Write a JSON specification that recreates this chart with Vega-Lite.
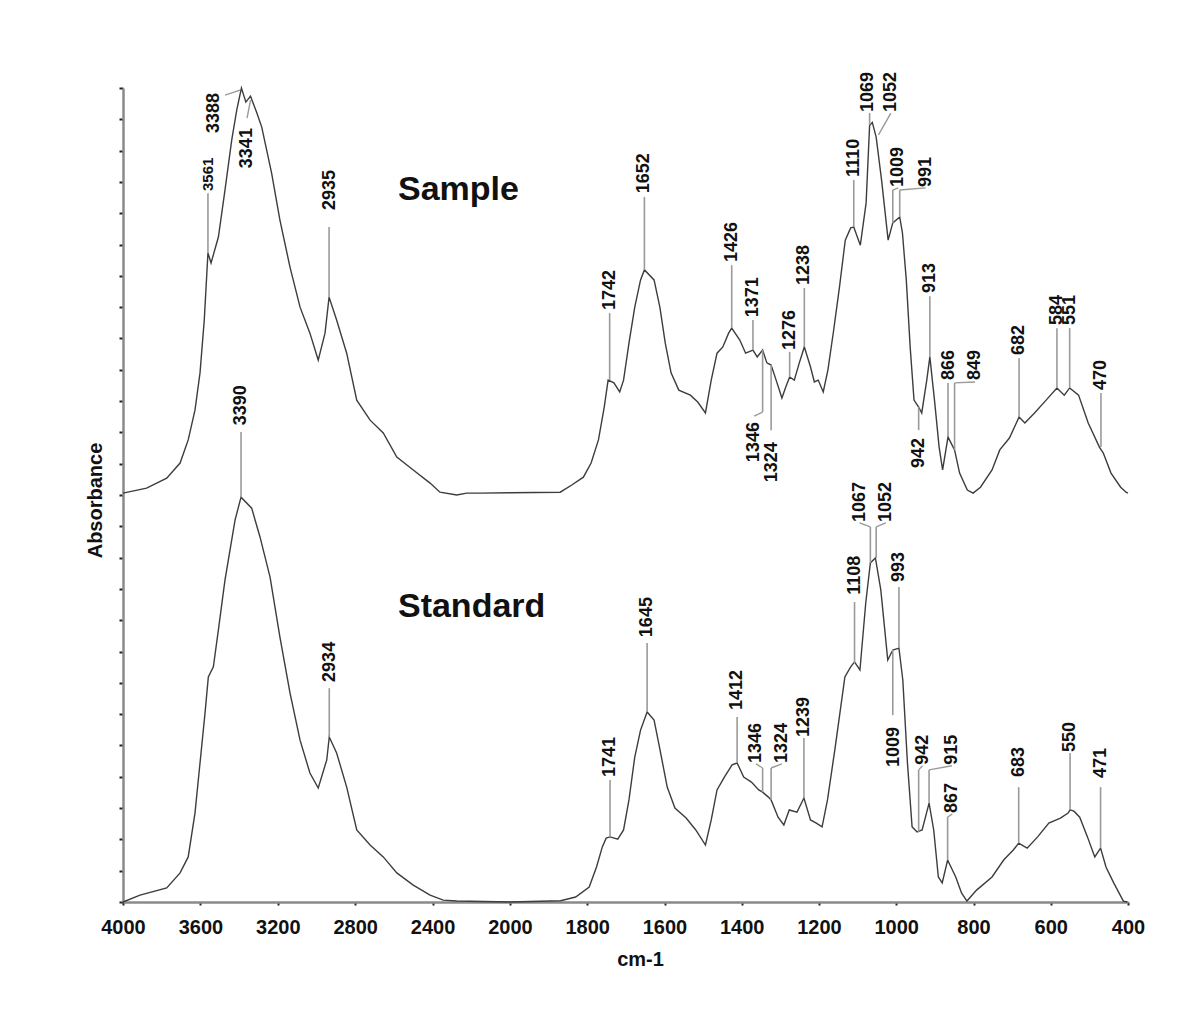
{
  "$schema": "https://vega.github.io/schema/vega-lite/v6.json",
  "width": 1005,
  "height": 814,
  "autosize": {"type": "none"},
  "padding": {"left": 123, "top": 88, "right": 72, "bottom": 118},
  "background": "white",
  "config": {"view": {"stroke": null}, "font": "Liberation Sans"},
  "datasets": {
    "spec": [
      {"s":"Sample","w":4000,"a":1.306},{"s":"Sample","w":3878,"a":1.322},{"s":"Sample","w":3774,"a":1.354},{"s":"Sample","w":3705,"a":1.402},{"s":"Sample","w":3663,"a":1.476},{"s":"Sample","w":3628,"a":1.571},{"s":"Sample","w":3602,"a":1.690},{"s":"Sample","w":3580,"a":1.859},{"s":"Sample","w":3561,"a":2.073},{"s":"Sample","w":3545,"a":2.041},{"s":"Sample","w":3507,"a":2.124},{"s":"Sample","w":3473,"a":2.274},{"s":"Sample","w":3438,"a":2.434},{"s":"Sample","w":3412,"a":2.530},{"s":"Sample","w":3388,"a":2.600},{"s":"Sample","w":3365,"a":2.555},{"s":"Sample","w":3341,"a":2.574},{"s":"Sample","w":3310,"a":2.523},{"s":"Sample","w":3283,"a":2.475},{"s":"Sample","w":3232,"a":2.328},{"s":"Sample","w":3189,"a":2.178},{"s":"Sample","w":3137,"a":2.028},{"s":"Sample","w":3085,"a":1.900},{"s":"Sample","w":3034,"a":1.817},{"s":"Sample","w":2991,"a":1.731},{"s":"Sample","w":2956,"a":1.817},{"s":"Sample","w":2935,"a":1.932},{"s":"Sample","w":2896,"a":1.859},{"s":"Sample","w":2844,"a":1.753},{"s":"Sample","w":2792,"a":1.603},{"s":"Sample","w":2723,"a":1.539},{"s":"Sample","w":2655,"a":1.498},{"s":"Sample","w":2585,"a":1.421},{"s":"Sample","w":2500,"a":1.380},{"s":"Sample","w":2413,"a":1.338},{"s":"Sample","w":2362,"a":1.309},{"s":"Sample","w":2275,"a":1.300},{"s":"Sample","w":2224,"a":1.306},{"s":"Sample","w":2155,"a":1.306},{"s":"Sample","w":2000,"a":1.307},
      {"s":"Sample","w":1870,"a":1.309},{"s":"Sample","w":1840,"a":1.332},{"s":"Sample","w":1810,"a":1.357},{"s":"Sample","w":1790,"a":1.402},{"s":"Sample","w":1771,"a":1.476},{"s":"Sample","w":1756,"a":1.581},{"s":"Sample","w":1746,"a":1.667},{"s":"Sample","w":1731,"a":1.658},{"s":"Sample","w":1716,"a":1.629},{"s":"Sample","w":1706,"a":1.667},{"s":"Sample","w":1692,"a":1.785},{"s":"Sample","w":1677,"a":1.900},{"s":"Sample","w":1662,"a":1.987},{"s":"Sample","w":1652,"a":2.019},{"s":"Sample","w":1627,"a":1.987},{"s":"Sample","w":1612,"a":1.900},{"s":"Sample","w":1598,"a":1.785},{"s":"Sample","w":1583,"a":1.690},{"s":"Sample","w":1563,"a":1.635},{"s":"Sample","w":1533,"a":1.619},{"s":"Sample","w":1514,"a":1.597},{"s":"Sample","w":1494,"a":1.562},{"s":"Sample","w":1479,"a":1.667},{"s":"Sample","w":1464,"a":1.753},{"s":"Sample","w":1449,"a":1.773},{"s":"Sample","w":1434,"a":1.817},{"s":"Sample","w":1426,"a":1.833},{"s":"Sample","w":1405,"a":1.795},{"s":"Sample","w":1390,"a":1.753},{"s":"Sample","w":1371,"a":1.763},{"s":"Sample","w":1360,"a":1.741},{"s":"Sample","w":1346,"a":1.763},{"s":"Sample","w":1335,"a":1.722},{"s":"Sample","w":1324,"a":1.715},{"s":"Sample","w":1311,"a":1.667},{"s":"Sample","w":1296,"a":1.610},{"s":"Sample","w":1286,"a":1.645},{"s":"Sample","w":1276,"a":1.677},{"s":"Sample","w":1264,"a":1.667},{"s":"Sample","w":1251,"a":1.722},{"s":"Sample","w":1238,"a":1.773},{"s":"Sample","w":1222,"a":1.709},{"s":"Sample","w":1212,"a":1.661},{"s":"Sample","w":1202,"a":1.667},{"s":"Sample","w":1189,"a":1.629},{"s":"Sample","w":1177,"a":1.699},{"s":"Sample","w":1162,"a":1.827},{"s":"Sample","w":1147,"a":1.964},{"s":"Sample","w":1132,"a":2.114},{"s":"Sample","w":1118,"a":2.153},{"s":"Sample","w":1110,"a":2.156},{"s":"Sample","w":1093,"a":2.098},{"s":"Sample","w":1078,"a":2.233},{"s":"Sample","w":1069,"a":2.480},{"s":"Sample","w":1062,"a":2.490},{"s":"Sample","w":1052,"a":2.443},{"s":"Sample","w":1038,"a":2.306},{"s":"Sample","w":1021,"a":2.114},{"s":"Sample","w":1009,"a":2.169},{"s":"Sample","w":991,"a":2.188},{"s":"Sample","w":984,"a":2.137},{"s":"Sample","w":974,"a":1.987},{"s":"Sample","w":964,"a":1.773},{"s":"Sample","w":954,"a":1.603},{"s":"Sample","w":942,"a":1.581},{"s":"Sample","w":934,"a":1.562},{"s":"Sample","w":921,"a":1.667},{"s":"Sample","w":913,"a":1.741},{"s":"Sample","w":901,"a":1.603},{"s":"Sample","w":889,"a":1.453},{"s":"Sample","w":880,"a":1.380},{"s":"Sample","w":866,"a":1.485},{"s":"Sample","w":849,"a":1.444},{"s":"Sample","w":836,"a":1.370},{"s":"Sample","w":816,"a":1.316},{"s":"Sample","w":801,"a":1.306},{"s":"Sample","w":782,"a":1.325},{"s":"Sample","w":752,"a":1.380},{"s":"Sample","w":732,"a":1.444},{"s":"Sample","w":707,"a":1.482},{"s":"Sample","w":682,"a":1.549},{"s":"Sample","w":667,"a":1.530},{"s":"Sample","w":642,"a":1.562},{"s":"Sample","w":612,"a":1.603},{"s":"Sample","w":584,"a":1.642},{"s":"Sample","w":565,"a":1.619},{"s":"Sample","w":551,"a":1.642},{"s":"Sample","w":528,"a":1.619},{"s":"Sample","w":503,"a":1.530},{"s":"Sample","w":474,"a":1.453},{"s":"Sample","w":464,"a":1.434},{"s":"Sample","w":444,"a":1.370},{"s":"Sample","w":419,"a":1.325},{"s":"Sample","w":405,"a":1.309},{"s":"Sample","w":400,"a":1.306},
      {"s":"Standard","w":4000,"a":0},{"s":"Standard","w":3912,"a":0.022},{"s":"Standard","w":3774,"a":0.045},{"s":"Standard","w":3705,"a":0.093},{"s":"Standard","w":3663,"a":0.144},{"s":"Standard","w":3628,"a":0.284},{"s":"Standard","w":3602,"a":0.444},{"s":"Standard","w":3576,"a":0.604},{"s":"Standard","w":3559,"a":0.719},{"s":"Standard","w":3533,"a":0.751},{"s":"Standard","w":3507,"a":0.869},{"s":"Standard","w":3473,"a":1.028},{"s":"Standard","w":3421,"a":1.220},{"s":"Standard","w":3390,"a":1.293},{"s":"Standard","w":3335,"a":1.258},{"s":"Standard","w":3292,"a":1.166},{"s":"Standard","w":3240,"a":1.038},{"s":"Standard","w":3189,"a":0.846},{"s":"Standard","w":3137,"a":0.668},{"s":"Standard","w":3085,"a":0.517},{"s":"Standard","w":3034,"a":0.412},{"s":"Standard","w":2991,"a":0.364},{"s":"Standard","w":2947,"a":0.454},{"s":"Standard","w":2934,"a":0.527},{"s":"Standard","w":2896,"a":0.476},{"s":"Standard","w":2844,"a":0.367},{"s":"Standard","w":2792,"a":0.230},{"s":"Standard","w":2723,"a":0.182},{"s":"Standard","w":2655,"a":0.144},{"s":"Standard","w":2585,"a":0.093},{"s":"Standard","w":2500,"a":0.054},{"s":"Standard","w":2413,"a":0.022},{"s":"Standard","w":2345,"a":0.006},{"s":"Standard","w":2275,"a":0.003},{"s":"Standard","w":2000,"a":0},
      {"s":"Standard","w":1869,"a":0.004},{"s":"Standard","w":1830,"a":0.016},{"s":"Standard","w":1795,"a":0.048},{"s":"Standard","w":1776,"a":0.112},{"s":"Standard","w":1761,"a":0.176},{"s":"Standard","w":1751,"a":0.204},{"s":"Standard","w":1741,"a":0.208},{"s":"Standard","w":1721,"a":0.201},{"s":"Standard","w":1706,"a":0.230},{"s":"Standard","w":1692,"a":0.326},{"s":"Standard","w":1677,"a":0.463},{"s":"Standard","w":1662,"a":0.549},{"s":"Standard","w":1645,"a":0.607},{"s":"Standard","w":1627,"a":0.581},{"s":"Standard","w":1613,"a":0.495},{"s":"Standard","w":1593,"a":0.367},{"s":"Standard","w":1573,"a":0.300},{"s":"Standard","w":1544,"a":0.268},{"s":"Standard","w":1519,"a":0.230},{"s":"Standard","w":1494,"a":0.182},{"s":"Standard","w":1479,"a":0.262},{"s":"Standard","w":1464,"a":0.358},{"s":"Standard","w":1445,"a":0.399},{"s":"Standard","w":1425,"a":0.438},{"s":"Standard","w":1412,"a":0.444},{"s":"Standard","w":1395,"a":0.399},{"s":"Standard","w":1375,"a":0.383},{"s":"Standard","w":1356,"a":0.358},{"s":"Standard","w":1346,"a":0.351},{"s":"Standard","w":1331,"a":0.335},{"s":"Standard","w":1324,"a":0.326},{"s":"Standard","w":1306,"a":0.271},{"s":"Standard","w":1291,"a":0.246},{"s":"Standard","w":1277,"a":0.294},{"s":"Standard","w":1257,"a":0.287},{"s":"Standard","w":1239,"a":0.332},{"s":"Standard","w":1222,"a":0.262},{"s":"Standard","w":1207,"a":0.252},{"s":"Standard","w":1192,"a":0.240},{"s":"Standard","w":1178,"a":0.326},{"s":"Standard","w":1158,"a":0.495},{"s":"Standard","w":1133,"a":0.719},{"s":"Standard","w":1118,"a":0.751},{"s":"Standard","w":1108,"a":0.767},{"s":"Standard","w":1094,"a":0.741},{"s":"Standard","w":1079,"a":0.955},{"s":"Standard","w":1067,"a":1.083},{"s":"Standard","w":1054,"a":1.099},{"s":"Standard","w":1040,"a":0.997},{"s":"Standard","w":1022,"a":0.773},{"s":"Standard","w":1009,"a":0.805},{"s":"Standard","w":993,"a":0.811},{"s":"Standard","w":983,"a":0.709},{"s":"Standard","w":971,"a":0.444},{"s":"Standard","w":959,"a":0.240},{"s":"Standard","w":946,"a":0.224},{"s":"Standard","w":933,"a":0.230},{"s":"Standard","w":915,"a":0.316},{"s":"Standard","w":903,"a":0.230},{"s":"Standard","w":891,"a":0.080},{"s":"Standard","w":881,"a":0.061},{"s":"Standard","w":867,"a":0.134},{"s":"Standard","w":846,"a":0.080},{"s":"Standard","w":831,"a":0.029},{"s":"Standard","w":817,"a":0.003},{"s":"Standard","w":792,"a":0.038},{"s":"Standard","w":752,"a":0.080},{"s":"Standard","w":722,"a":0.134},{"s":"Standard","w":697,"a":0.166},{"s":"Standard","w":683,"a":0.188},{"s":"Standard","w":661,"a":0.172},{"s":"Standard","w":634,"a":0.208},{"s":"Standard","w":605,"a":0.252},{"s":"Standard","w":575,"a":0.268},{"s":"Standard","w":555,"a":0.284},{"s":"Standard","w":550,"a":0.294},{"s":"Standard","w":540,"a":0.290},{"s":"Standard","w":525,"a":0.271},{"s":"Standard","w":505,"a":0.208},{"s":"Standard","w":486,"a":0.144},{"s":"Standard","w":471,"a":0.172},{"s":"Standard","w":457,"a":0.112},{"s":"Standard","w":437,"a":0.061},{"s":"Standard","w":412,"a":0.003},{"s":"Standard","w":402,"a":0}
    ],
    "vlines": [
      {"w":3561,"a1":2.264,"a2":2.073},{"w":2935,"a1":2.156,"a2":1.932},{"w":1742,"a1":1.881,"a2":1.667},{"w":1652,"a1":2.252,"a2":2.019},{"w":1426,"a1":2.034,"a2":1.833},{"w":1371,"a1":1.859,"a2":1.763},{"w":1346,"a1":1.763,"a2":1.565},{"w":1324,"a1":1.715,"a2":1.507},{"w":1276,"a1":1.757,"a2":1.677},{"w":1238,"a1":1.961,"a2":1.773},{"w":1110,"a1":2.306,"a2":2.156},{"w":1069,"a1":2.520,"a2":2.482},{"w":1009,"a1":2.274,"a2":2.169},{"w":991,"a1":2.274,"a2":2.188},{"w":942,"a1":1.581,"a2":1.507},{"w":913,"a1":1.935,"a2":1.741},{"w":866,"a1":1.658,"a2":1.485},{"w":849,"a1":1.658,"a2":1.444},{"w":682,"a1":1.737,"a2":1.549},{"w":584,"a1":1.833,"a2":1.642},{"w":551,"a1":1.833,"a2":1.642},{"w":470,"a1":1.626,"a2":1.453},
      {"w":3390,"a1":1.501,"a2":1.293},{"w":2934,"a1":0.683,"a2":0.527},{"w":1741,"a1":0.390,"a2":0.208},{"w":1645,"a1":0.827,"a2":0.607},{"w":1412,"a1":0.591,"a2":0.444},{"w":1346,"a1":0.428,"a2":0.351},{"w":1324,"a1":0.428,"a2":0.326},{"w":1239,"a1":0.524,"a2":0.332},{"w":1108,"a1":0.958,"a2":0.763},{"w":1067,"a1":1.198,"a2":1.083},{"w":1052,"a1":1.198,"a2":1.099},{"w":993,"a1":1.006,"a2":0.811},{"w":1009,"a1":0.805,"a2":0.597},{"w":942,"a1":0.422,"a2":0.224},{"w":915,"a1":0.422,"a2":0.316},{"w":867,"a1":0.271,"a2":0.134},{"w":683,"a1":0.367,"a2":0.188},{"w":550,"a1":0.476,"a2":0.294},{"w":471,"a1":0.367,"a2":0.172}
    ],
    "leaders": [
      {"w1":3473,"a1":2.577,"w2":3395,"a2":2.593},{"w1":3359,"a1":2.504,"w2":3341,"a2":2.561},{"w1":1014,"a1":2.520,"w2":1046,"a2":2.450},{"w1":995,"a1":2.281,"w2":1009,"a2":2.274},{"w1":924,"a1":2.281,"w2":991,"a2":2.274},{"w1":796,"a1":1.661,"w2":849,"a2":1.658},{"w1":1368,"a1":1.552,"w2":1346,"a2":1.565},
      {"w1":1363,"a1":0.441,"w2":1346,"a2":0.428},{"w1":1296,"a1":0.441,"w2":1324,"a2":0.428},{"w1":1095,"a1":1.211,"w2":1067,"a2":1.198},{"w1":1027,"a1":1.211,"w2":1052,"a2":1.198},{"w1":856,"a1":0.435,"w2":915,"a2":0.422},{"w1":855,"a1":0.281,"w2":867,"a2":0.271},{"w1":932,"a1":0.435,"w2":942,"a2":0.422}
    ],
    "labels": [
      {"t":"3561","w":3561,"a":2.271,"fs":15},{"t":"3388","w":3530,"a":2.456,"fs":18},{"t":"3341","w":3359,"a":2.344,"fs":18},{"t":"2935","w":2930,"a":2.210,"fs":18},{"t":"1742","w":1742,"a":1.891,"fs":18},{"t":"1652","w":1652,"a":2.264,"fs":18},{"t":"1426","w":1426,"a":2.044,"fs":18},{"t":"1371","w":1371,"a":1.868,"fs":18},{"t":"1346","w":1368,"a":1.405,"fs":18},{"t":"1324","w":1321,"a":1.341,"fs":18},{"t":"1276","w":1276,"a":1.763,"fs":18},{"t":"1238","w":1238,"a":1.971,"fs":18},{"t":"1110","w":1110,"a":2.316,"fs":18},{"t":"1069","w":1074,"a":2.523,"fs":18},{"t":"1052","w":1014,"a":2.523,"fs":18},{"t":"1009","w":995,"a":2.284,"fs":18},{"t":"991","w":924,"a":2.284,"fs":18},{"t":"942","w":940,"a":1.386,"fs":18},{"t":"913","w":913,"a":1.945,"fs":18},{"t":"866","w":864,"a":1.667,"fs":18},{"t":"849","w":796,"a":1.667,"fs":18},{"t":"682","w":682,"a":1.747,"fs":18},{"t":"584","w":584,"a":1.843,"fs":18},{"t":"551","w":551,"a":1.843,"fs":18},{"t":"470","w":470,"a":1.635,"fs":18},
      {"t":"3390","w":3390,"a":1.523,"fs":18},{"t":"2934","w":2930,"a":0.703,"fs":18},{"t":"1741","w":1741,"a":0.399,"fs":18},{"t":"1645","w":1645,"a":0.846,"fs":18},{"t":"1412","w":1412,"a":0.613,"fs":18},{"t":"1346","w":1363,"a":0.444,"fs":18},{"t":"1324","w":1296,"a":0.444,"fs":18},{"t":"1239","w":1239,"a":0.527,"fs":18},{"t":"1108","w":1108,"a":0.981,"fs":18},{"t":"1067","w":1095,"a":1.214,"fs":18},{"t":"1052","w":1027,"a":1.214,"fs":18},{"t":"993","w":993,"a":1.022,"fs":18},{"t":"1009","w":1006,"a":0.431,"fs":18},{"t":"942","w":932,"a":0.438,"fs":18},{"t":"915","w":856,"a":0.438,"fs":18},{"t":"867","w":855,"a":0.284,"fs":18},{"t":"683","w":683,"a":0.399,"fs":18},{"t":"550","w":550,"a":0.479,"fs":18},{"t":"471","w":471,"a":0.396,"fs":18}
    ],
    "titles": [
      {"t":"Sample","w":2579,"a":2.242},{"t":"Standard","w":2579,"a":0.910}
    ]
  },
  "layer": [
    {
      "data": {"name": "spec"},
      "mark": {"type": "line", "stroke": "#3d3d3d", "strokeWidth": 1.4},
      "encoding": {
        "x": {"field": "w", "type": "quantitative", "title": "cm-1",
          "scale": {"domain": [4000, 2000, 400], "range": [0, 387, 1005], "nice": false, "zero": false},
          "axis": {"values": [4000,3600,3200,2800,2400,2000,1800,1600,1400,1200,1000,800,600,400], "format": "d", "tickCount": 30,
            "grid": false, "labelFontSize": 20, "labelFontWeight": "bold", "labelColor": "#111", "labelBaseline": "alphabetic",
            "labelPadding": 28, "labelFlush": false, "labelOverlap": false, "tickSize": 3, "tickColor": "#222", "tickWidth": 2,
            "domainColor": "#8a8a8a", "domainWidth": 2.5, "title": "cm-1", "titleFontSize": 20, "titleFontWeight": "bold",
            "titleColor": "#111", "titleX": 517, "titleY": 63, "titleBaseline": "alphabetic", "titleAlign": "center"}},
        "y": {"field": "a", "type": "quantitative", "title": "Absorbance",
          "scale": {"domain": [0, 2.6], "nice": false, "zero": false},
          "axis": {"values": [0,0.1,0.2,0.3,0.4,0.5,0.6,0.7,0.8,0.9,1,1.1,1.2,1.3,1.4,1.5,1.6,1.7,1.8,1.9,2,2.1,2.2,2.3,2.4,2.5,2.6], "tickCount": 40,
            "labels": false, "grid": false, "tickSize": 4, "tickColor": "#222", "tickWidth": 2, "tickRound": true, "domainColor": "#8a8a8a", "domainWidth": 2.5,
            "title": "Absorbance", "titleFontSize": 20, "titleFontWeight": "bold", "titleColor": "#111", "titleAngle": 270,
            "titleX": -28, "titleY": 412, "titleAlign": "center", "titleBaseline": "middle"}},
        "detail": {"field": "s", "type": "nominal"}
      }
    },
    {
      "data": {"name": "vlines"},
      "mark": {"type": "rule", "stroke": "#9a9a9a", "strokeWidth": 1.6},
      "encoding": {
        "x": {"field": "w", "type": "quantitative", "title": "cm-1"},
        "y": {"field": "a1", "type": "quantitative", "title": "Absorbance"},
        "y2": {"field": "a2"}
      }
    },
    {
      "data": {"name": "leaders"},
      "mark": {"type": "rule", "stroke": "#9a9a9a", "strokeWidth": 1.4},
      "encoding": {
        "x": {"field": "w1", "type": "quantitative", "title": "cm-1"},
        "x2": {"field": "w2"},
        "y": {"field": "a1", "type": "quantitative", "title": "Absorbance"},
        "y2": {"field": "a2"}
      }
    },
    {
      "data": {"name": "labels"},
      "mark": {"type": "text", "angle": 270, "align": "left", "baseline": "middle", "fontWeight": "bold", "color": "#111"},
      "encoding": {
        "x": {"field": "w", "type": "quantitative", "title": "cm-1"},
        "y": {"field": "a", "type": "quantitative", "title": "Absorbance"},
        "text": {"field": "t", "type": "nominal"},
        "size": {"field": "fs", "type": "quantitative", "scale": null}
      }
    },
    {
      "data": {"name": "titles"},
      "mark": {"type": "text", "align": "left", "baseline": "alphabetic", "fontWeight": "bold", "fontSize": 34, "color": "#111"},
      "encoding": {
        "x": {"field": "w", "type": "quantitative", "title": "cm-1"},
        "y": {"field": "a", "type": "quantitative", "title": "Absorbance"},
        "text": {"field": "t", "type": "nominal"}
      }
    }
  ]
}
